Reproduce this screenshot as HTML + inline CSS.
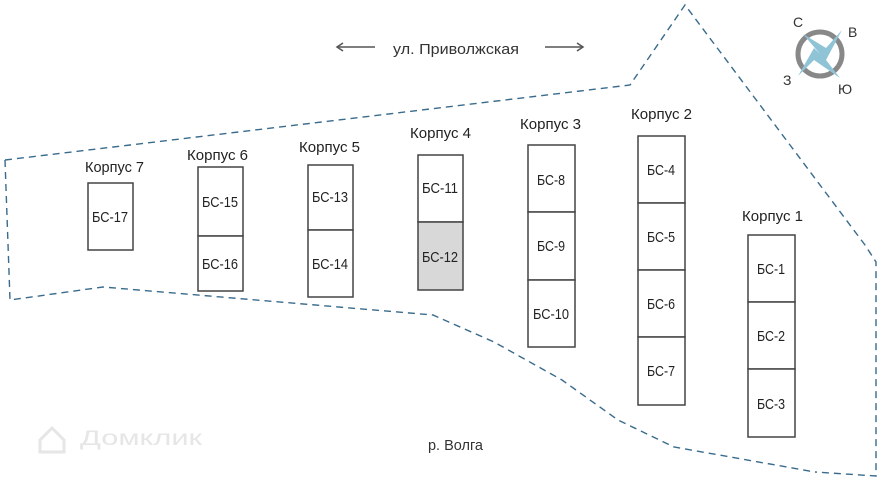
<!DOCTYPE html>
<html><head><meta charset="utf-8"><style>
html,body{margin:0;padding:0;background:#fff;}
svg{display:block}
text{font-family:"Liberation Sans Narrow","Liberation Sans",sans-serif;}
</style></head><body>
<svg width="882" height="480" viewBox="0 0 882 480" xmlns="http://www.w3.org/2000/svg">
<g fill="none" stroke="#3a6b8c" stroke-width="1.4" stroke-dasharray="7,5">
<polyline points="5,160 630,85 685,5 865,245 876,262 876,476 815,472"/>
<polyline points="5,160 10,300 103,287 433,315 494,342 562,380 618,420 674,447 815,472"/>
</g>
<g stroke="#555" stroke-width="1.5" fill="none">
<line x1="337" y1="47" x2="375" y2="47"/><polyline points="343,43 337,47 343,51"/>
<line x1="545" y1="47" x2="583" y2="47"/><polyline points="577,43 583,47 577,51"/>
</g>
<text x="393" y="54" font-size="15" fill="#333" textLength="126" lengthAdjust="spacingAndGlyphs">ул. Приволжская</text>
<text x="428" y="450" font-size="15" fill="#333" textLength="55" lengthAdjust="spacingAndGlyphs">р. Волга</text>
<text x="80" y="445" font-size="21" fill="#e6e6e6" textLength="122" lengthAdjust="spacingAndGlyphs">Домклик</text>
<path d="M40,440 L52,428 L64,440 L64,452 L40,452 Z" fill="none" stroke="#e6e6e6" stroke-width="3"/>
<circle cx="820" cy="54" r="22" fill="none" stroke="#888" stroke-width="5"/>
<polygon points="820,54 803,34 826,48 842,30 826,60 840,78 814,60 798,76 814,48" fill="#8fc3d6"/>
<g font-size="14" fill="#333">
<text x="793" y="27">С</text><text x="848" y="37">В</text><text x="783" y="85">З</text><text x="838" y="94">Ю</text>
</g>
<g font-size="15" fill="#222">
<text x="85" y="172" textLength="59" lengthAdjust="spacingAndGlyphs">Корпус 7</text>
<text x="187" y="160" textLength="61" lengthAdjust="spacingAndGlyphs">Корпус 6</text>
<text x="299" y="152" textLength="61" lengthAdjust="spacingAndGlyphs">Корпус 5</text>
<text x="410" y="138" textLength="61" lengthAdjust="spacingAndGlyphs">Корпус 4</text>
<text x="520" y="129" textLength="61" lengthAdjust="spacingAndGlyphs">Корпус 3</text>
<text x="631" y="119" textLength="61" lengthAdjust="spacingAndGlyphs">Корпус 2</text>
<text x="742" y="221" textLength="61" lengthAdjust="spacingAndGlyphs">Корпус 1</text>
</g>
<g stroke="#444" stroke-width="1.5" fill="#fff">
<rect x="88" y="183" width="45" height="67"/>
<rect x="198" y="167" width="45" height="69"/><rect x="198" y="236" width="45" height="55"/>
<rect x="308" y="165" width="45" height="65"/><rect x="308" y="230" width="45" height="67"/>
<rect x="418" y="155" width="45" height="67"/><rect x="418" y="222" width="45" height="68" fill="#d8d8d8"/>
<rect x="528" y="145" width="47" height="67"/><rect x="528" y="212" width="47" height="68"/><rect x="528" y="280" width="47" height="67"/>
<rect x="638" y="136" width="47" height="67"/><rect x="638" y="203" width="47" height="67"/><rect x="638" y="270" width="47" height="67"/><rect x="638" y="337" width="47" height="68"/>
<rect x="748" y="235" width="47" height="67"/><rect x="748" y="302" width="47" height="67"/><rect x="748" y="369" width="47" height="68"/>
</g>
<g font-size="15" fill="#222" text-anchor="middle">
<text x="110" y="222" textLength="36" lengthAdjust="spacingAndGlyphs">БС-17</text>
<text x="220" y="207" textLength="36" lengthAdjust="spacingAndGlyphs">БС-15</text><text x="220" y="269" textLength="36" lengthAdjust="spacingAndGlyphs">БС-16</text>
<text x="330" y="202" textLength="36" lengthAdjust="spacingAndGlyphs">БС-13</text><text x="330" y="269" textLength="36" lengthAdjust="spacingAndGlyphs">БС-14</text>
<text x="440" y="193" textLength="36" lengthAdjust="spacingAndGlyphs">БС-11</text><text x="440" y="262" textLength="36" lengthAdjust="spacingAndGlyphs">БС-12</text>
<text x="551" y="185" textLength="28" lengthAdjust="spacingAndGlyphs">БС-8</text><text x="551" y="251" textLength="28" lengthAdjust="spacingAndGlyphs">БС-9</text><text x="551" y="319" textLength="36" lengthAdjust="spacingAndGlyphs">БС-10</text>
<text x="661" y="175" textLength="28" lengthAdjust="spacingAndGlyphs">БС-4</text><text x="661" y="242" textLength="28" lengthAdjust="spacingAndGlyphs">БС-5</text><text x="661" y="309" textLength="28" lengthAdjust="spacingAndGlyphs">БС-6</text><text x="661" y="376" textLength="28" lengthAdjust="spacingAndGlyphs">БС-7</text>
<text x="771" y="274" textLength="28" lengthAdjust="spacingAndGlyphs">БС-1</text><text x="771" y="341" textLength="28" lengthAdjust="spacingAndGlyphs">БС-2</text><text x="771" y="409" textLength="28" lengthAdjust="spacingAndGlyphs">БС-3</text>
</g>
</svg>
</body></html>
